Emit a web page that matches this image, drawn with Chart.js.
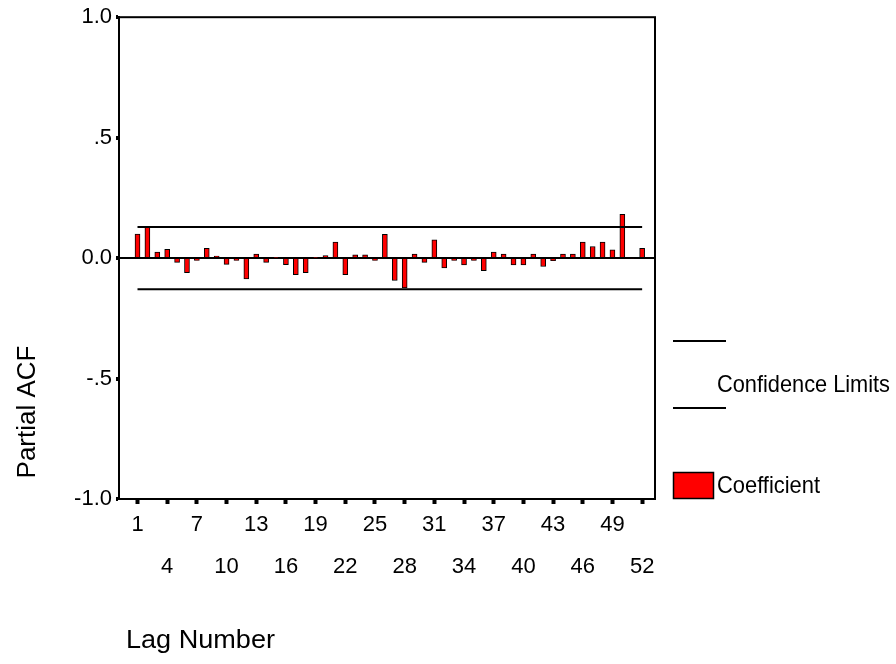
<!DOCTYPE html>
<html>
<head>
<meta charset="utf-8">
<script src="https://cdn.jsdelivr.net/npm/chart.js@4/dist/chart.umd.min.js"></script>
<style>
html,body{margin:0;padding:0;background:#fff;}
#wrap{position:relative;width:896px;height:664px;}
</style>
</head>
<body>
<div id="wrap"><canvas id="c" width="896" height="664"></canvas></div>
<script>
// ---- data ----
const lags = [1,2,3,4,5,6,7,8,9,10,11,12,13,14,15,16,17,18,19,20,21,22,23,24,25,26,
              27,28,29,30,31,32,33,34,35,36,37,38,39,40,41,42,43,44,45,46,47,48,49,50,51,52];
const partialACF = [0.100,0.131,0.025,0.036,-0.018,-0.060,-0.010,0.041,0.008,-0.026,-0.010,-0.086,0.017,
                    -0.018,0.003,-0.027,-0.069,-0.060,0.003,0.010,0.066,-0.069,0.014,0.014,-0.010,0.099,
                    -0.093,-0.124,0.017,-0.018,0.076,-0.041,-0.010,-0.028,-0.010,-0.052,0.025,0.017,-0.028,
                    -0.028,0.017,-0.035,-0.011,0.017,0.017,0.066,0.048,0.066,0.034,0.182,-0.004,0.041];
const confidenceLimit = 0.129;
const xTickValues = [1,4,7,10,13,16,19,22,25,28,31,34,37,40,43,46,49,52];
const yTickValues = [-1,-0.5,0,0.5,1];
const yTickLabels = ['-1.0','-.5','0.0','.5','1.0'];
const xTitle = 'Lag Number';
const yTitle = 'Partial ACF';
const legendConf = 'Confidence Limits';
const legendCoef = 'Coefficient';

const FONT = '"Liberation Sans", Arial, sans-serif';

const framePlugin = {
  id: 'frame',
  afterDatasetsDraw(chart) {
    const {ctx, chartArea: a} = chart;
    ctx.save();
    ctx.strokeStyle = '#000';
    ctx.lineWidth = 2;
    ctx.strokeRect(a.left, a.top, a.right - a.left, a.bottom - a.top);
    ctx.restore();
  }
};

function fitText(ctx, text, x, y, width) {
  const w = ctx.measureText(text).width;
  ctx.save();
  ctx.translate(x, y);
  ctx.scale(width / w, 1);
  ctx.fillText(text, 0, 0);
  ctx.restore();
}

const textPlugin = {
  id: 'texts',
  afterDraw(chart) {
    const ctx = chart.ctx;
    ctx.save();
    ctx.fillStyle = '#000';
    ctx.textBaseline = 'middle';
    // axis titles
    ctx.font = '26px ' + FONT;
    ctx.textAlign = 'left';
    fitText(ctx, xTitle, 126, 641, 149);
    ctx.save();
    ctx.translate(28, 412);
    ctx.rotate(-Math.PI / 2);
    ctx.textAlign = 'center';
    ctx.fillText(yTitle, 0, 0);
    ctx.restore();
    // legend
    ctx.strokeStyle = '#000';
    ctx.lineWidth = 2;
    ctx.beginPath();
    ctx.moveTo(673, 341); ctx.lineTo(726, 341);
    ctx.moveTo(673, 408); ctx.lineTo(726, 408);
    ctx.stroke();
    ctx.font = '24px ' + FONT;
    ctx.textAlign = 'left';
    fitText(ctx, legendConf, 717, 385, 173);
    ctx.fillStyle = '#ff0000';
    ctx.fillRect(673, 472, 41, 27);
    ctx.lineWidth = 1.5;
    ctx.strokeRect(673.5, 472.5, 40, 26);
    ctx.fillStyle = '#000';
    fitText(ctx, legendCoef, 717, 486, 103);
    ctx.restore();
  }
};

new Chart(document.getElementById('c'), {
  data: {
    datasets: [
      {
        type: 'bar',
        label: legendCoef,
        data: lags.map((l, i) => ({x: l, y: partialACF[i]})),
        backgroundColor: '#ff0000',
        borderColor: '#000',
        borderWidth: 1,
        barThickness: 5,
        order: 2
      },
      {
        type: 'line',
        label: 'Upper limit',
        data: [{x: lags[0], y: confidenceLimit}, {x: lags[lags.length - 1], y: confidenceLimit}],
        borderColor: '#000', borderWidth: 2, pointRadius: 0, order: 1
      },
      {
        type: 'line',
        label: 'Lower limit',
        data: [{x: lags[0], y: -confidenceLimit}, {x: lags[lags.length - 1], y: -confidenceLimit}],
        borderColor: '#000', borderWidth: 2, pointRadius: 0, order: 1
      }
    ]
  },
  options: {
    responsive: false,
    animation: false,
    layout: {padding: {top: 15, right: 241, left: 0, bottom: 0}},
    plugins: {legend: {display: false}, tooltip: {enabled: false}},
    scales: {
      x: {
        type: 'linear',
        offset: false,
        min: -0.87,
        max: 53.3,
        afterBuildTicks: s => { s.ticks = xTickValues.map(v => ({value: v})); },
        afterFit: s => { s.height = 165; },
        ticks: {
          autoSkip: false,
          maxRotation: 0,
          padding: 0,
          color: '#000',
          font: {family: FONT, size: 22, lineHeight: 42 / 22},
          callback: (v, i) => (i % 2 === 0 ? String(v) : ['', String(v)])
        },
        grid: {offset: false, drawOnChartArea: false, drawTicks: true, tickLength: 5, tickWidth: 4, tickColor: '#000'},
        border: {display: true, color: '#000', width: 2}
      },
      y: {
        type: 'linear',
        min: -1,
        max: 1,
        afterBuildTicks: s => { s.ticks = yTickValues.map(v => ({value: v})); },
        afterFit: s => { s.width = 119; },
        ticks: {
          padding: 4,
          color: '#000',
          font: {family: FONT, size: 22},
          callback: (v) => yTickLabels[yTickValues.indexOf(v)]
        },
        grid: {
          color: c => (c.tick && c.tick.value === 0 ? '#000' : 'rgba(0,0,0,0)'),
          lineWidth: 2,
          tickLength: 3,
          tickWidth: 4,
          tickColor: '#000'
        },
        border: {display: true, color: '#000', width: 2}
      }
    }
  },
  plugins: [framePlugin, textPlugin]
});
</script>
</body>
</html>
